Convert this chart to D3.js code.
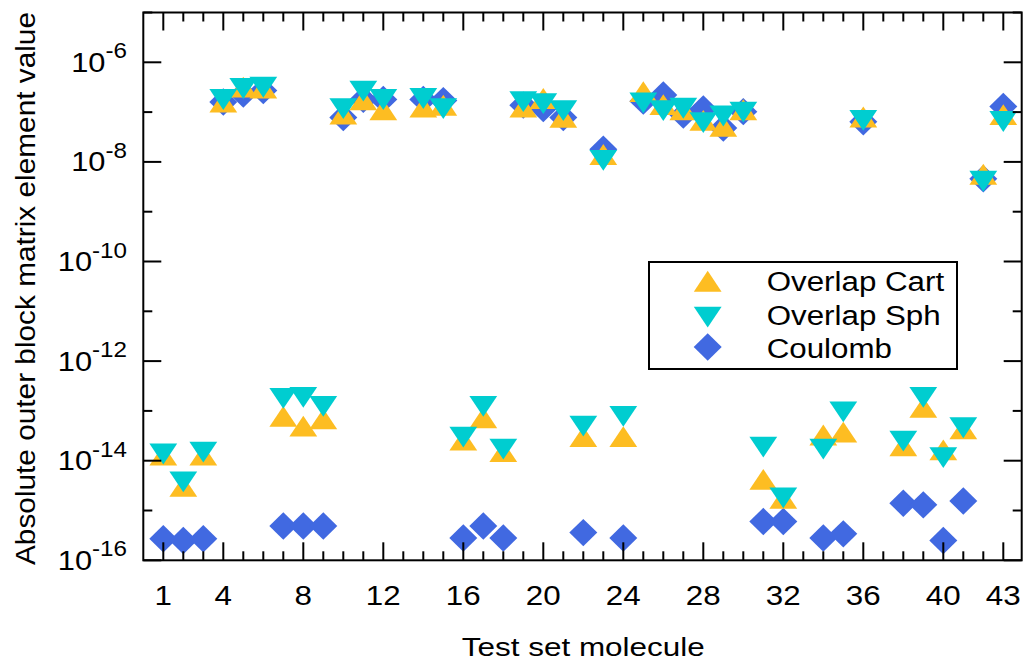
<!DOCTYPE html>
<html>
<head>
<meta charset="utf-8">
<script src="https://cdn.jsdelivr.net/npm/d3@7"></script>
<style>
  html, body { margin: 0; padding: 0; background: #fff; }
  svg { display: block; font-family: "Liberation Sans", Arial, sans-serif; }
</style>
</head>
<body>
<svg id="chart" width="1023" height="661"></svg>
<script>
// ---------------- data ----------------
const molecules = d3.range(1, 44);
const xTickLabels = [1, 4, 8, 12, 16, 20, 24, 28, 32, 36, 40, 43];
const yTickExponents = [-6, -8, -10, -12, -14, -16];
const seriesNames = ["Overlap Cart", "Overlap Sph", "Coulomb"];

const overlapCart = [1.1e-14, 2.6e-15, 1.1e-14, 1.36e-7, 2.7e-7, 2.6e-7, 6.6e-14, 4.2e-14, 5.9e-14, 7.8e-8,
  1.5e-7, 9.5e-8, null, 1.07e-7, 1.17e-7, 2.2e-14, 6.2e-14, 1.3e-14, 1.07e-7, 1.6e-7,
  6.7e-8, 2.6e-14, 1.2e-8, 2.6e-14, 2.2e-7, 1.2e-7, 9.5e-8, 5.8e-8, 4.4e-8, 9.5e-8,
  3.6e-15, 1.5e-15, null, 2.8e-14, 3.2e-14, 6.8e-8, null, 1.7e-14, 1.0e-13, 1.4e-14,
  3.7e-14, 4.8e-9, 7.6e-8];
const overlapSph = [1.6e-14, 4.4e-15, 1.75e-14, 2.1e-7, 3.5e-7, 3.7e-7, 2.1e-13, 2.2e-13, 1.45e-13, 1.38e-7,
  3.1e-7, 2.1e-7, null, 2.2e-7, 1.38e-7, 3.5e-14, 1.45e-13, 2.0e-14, 1.9e-7, 1.74e-7,
  1.26e-7, 5.8e-14, 1.26e-8, 9.1e-14, 1.8e-7, 1.26e-7, 1.4e-7, 7.2e-8, 9.8e-8, 1.17e-7,
  2.2e-14, 2.1e-15, null, 2.0e-14, 1.12e-13, 8.0e-8, null, 2.9e-14, 2.2e-13, 1.35e-14,
  5.4e-14, 4.8e-9, 7.6e-8];
const coulomb = [2.7e-16, 2.5e-16, 2.7e-16, 1.6e-7, 2.3e-7, 2.7e-7, 4.9e-16, 4.9e-16, 4.9e-16, 7.8e-8,
  1.8e-7, 1.8e-7, null, 1.8e-7, 1.7e-7, 2.8e-16, 4.9e-16, 2.8e-16, 1.38e-7, 1.18e-7,
  7.8e-8, 3.6e-16, 1.8e-8, 2.8e-16, 1.66e-7, 2.2e-7, 8.7e-8, 1.16e-7, 4.8e-8, 1.02e-7,
  6.0e-16, 6.0e-16, null, 2.8e-16, 3.4e-16, 6.4e-8, null, 1.4e-15, 1.3e-15, 2.5e-16,
  1.55e-15, 4.6e-9, 1.3e-7];

// ---------------- layout ----------------
const svg = d3.select("#chart");
const L = 143.3, T = 12.5, B = 560.3;
const x = d3.scaleLinear().domain([0, 43.92]).range([L, L + 43.92 * 20]);
const y = d3.scaleLog().domain([1e-16, 1e-5]).range([B, T]);
const R = x.range()[1];

const colors = { "Overlap Cart": "#FDBD22", "Overlap Sph": "#00CDD0", "Coulomb": "#4169E1" };
const h = 13.9;
const shapes = {
  "Overlap Cart": `M0,${-h}L${h},${h/2}L${-h},${h/2}Z`,
  "Overlap Sph": `M0,${h}L${h},${-h/2}L${-h},${-h/2}Z`,
  "Coulomb": `M0,-13.7L14,0L0,13.7L-14,0Z`
};

// ---------------- markers ----------------
const seriesData = { "Overlap Cart": overlapCart, "Overlap Sph": overlapSph, "Coulomb": coulomb };
const drawOrder = ["Coulomb", "Overlap Cart", "Overlap Sph"];
const plot = svg.append("g");
drawOrder.forEach(name => {
  const pts = molecules.map((m, i) => ({ m, v: seriesData[name][i] })).filter(d => d.v != null);
  plot.selectAll(null).data(pts).enter().append("path")
    .attr("d", shapes[name])
    .attr("transform", d => `translate(${x(d.m)},${y(d.v)})`)
    .attr("fill", colors[name]);
});

// ---------------- axes / frame ----------------
const axes = svg.append("g").attr("stroke", "#000").attr("stroke-width", 2);
const majorLen = 18, minorLen = 9;
molecules.forEach(m => {
  const len = xTickLabels.includes(m) ? majorLen : minorLen;
  axes.append("line").attr("x1", x(m)).attr("x2", x(m)).attr("y1", B).attr("y2", B - len);
  axes.append("line").attr("x1", x(m)).attr("x2", x(m)).attr("y1", T).attr("y2", T + len);
});
d3.range(-16, -4).forEach(e => {
  const len = yTickExponents.includes(e) ? majorLen : minorLen;
  const yy = y(Math.pow(10, e));
  axes.append("line").attr("x1", L).attr("x2", L + len).attr("y1", yy).attr("y2", yy);
  axes.append("line").attr("x1", R).attr("x2", R - len).attr("y1", yy).attr("y2", yy);
});
axes.append("rect").attr("x", L).attr("y", T).attr("width", R - L).attr("height", B - T)
  .attr("fill", "none");

// tick labels
xTickLabels.forEach(m => {
  svg.append("text")
    .attr("transform", `translate(${x(m)},605) scale(1.12,1)`)
    .attr("text-anchor", "middle").attr("font-size", 28).attr("fill", "#000")
    .text(m);
});
yTickExponents.forEach(e => {
  const t = svg.append("text")
    .attr("transform", `translate(127,${y(Math.pow(10, e)) + 9.4}) scale(1.1,1)`)
    .attr("text-anchor", "end").attr("fill", "#000");
  t.append("tspan").attr("font-size", 28).text("10");
  t.append("tspan").attr("font-size", 22).attr("dy", -13.4).text(String(e));
});

// axis titles
svg.append("text")
  .attr("x", 583.3).attr("y", 655.5).attr("text-anchor", "middle")
  .attr("font-size", 26.5).attr("textLength", 243).attr("lengthAdjust", "spacingAndGlyphs")
  .text("Test set molecule");
svg.append("text")
  .attr("transform", "translate(35,288.5) rotate(-90)").attr("text-anchor", "middle")
  .attr("font-size", 27).attr("textLength", 553).attr("lengthAdjust", "spacingAndGlyphs")
  .text("Absolute outer block matrix element value");

// ---------------- legend ----------------
const lg = svg.append("g");
lg.append("rect").attr("x", 649).attr("y", 262).attr("width", 308).attr("height", 107)
  .attr("fill", "#fff").attr("stroke", "#000").attr("stroke-width", 2);
const legendRows = [
  { name: "Overlap Cart", my: 284.7, ty: 291 },
  { name: "Overlap Sph", my: 313.6, ty: 324.5 },
  { name: "Coulomb", my: 347, ty: 357.5 }
];
legendRows.forEach(r => {
  lg.append("path").attr("d", shapes[r.name]).attr("transform", `translate(707.7,${r.my})`)
    .attr("fill", colors[r.name]);
  lg.append("text").attr("transform", `translate(766.7,${r.ty}) scale(1.16,1)`)
    .attr("font-size", 27).attr("fill", "#000").text(r.name);
});
</script>
</body>
</html>
